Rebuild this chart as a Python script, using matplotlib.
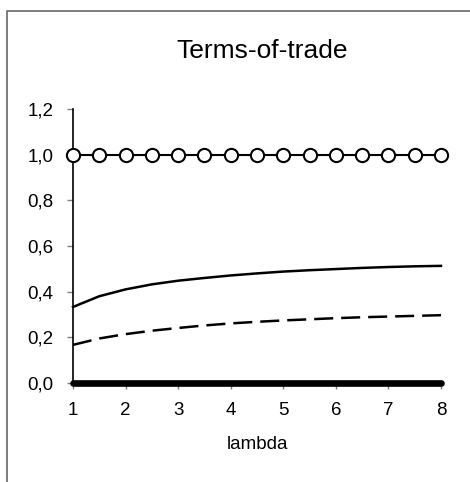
import numpy as np
import matplotlib
matplotlib.use("Agg")
import matplotlib.pyplot as plt
from matplotlib.ticker import FuncFormatter
from matplotlib.lines import Line2D

plt.rcParams['font.family'] = ['Liberation Sans', 'DejaVu Sans']

lam = [1, 1.5, 2, 2.5, 3, 3.5, 4, 4.5, 5, 5.5, 6, 6.5, 7, 7.5, 8]
flat_one = [1.0]*15
solid = [0.333, 0.380, 0.410, 0.432, 0.448, 0.460, 0.471, 0.480, 0.488, 0.494, 0.499, 0.504, 0.508, 0.511, 0.513]
dashed = [0.167, 0.195, 0.214, 0.229, 0.241, 0.252, 0.261, 0.268, 0.274, 0.279, 0.284, 0.288, 0.291, 0.294, 0.297]
zero = [0.0]*15

fig = plt.figure(figsize=(4.70, 4.82), dpi=100)
ax = fig.add_axes([73/470, 1-383/482, (441-73)/470, (383-109)/482])

ax.plot(lam, flat_one, '-', color='black', lw=1.5, marker='o', ms=9.5,
        mfc='white', mec='black', mew=1.5, clip_on=False, zorder=5)
ax.plot(lam, solid, '-', color='black', lw=1.8, clip_on=False)
ax.plot(lam, dashed, color='black', lw=1.8, dashes=(7.6, 3.2), clip_on=False)
ax.plot(lam, zero, '-', color='black', lw=4.8, solid_capstyle='round', clip_on=False, zorder=6)

ax.set_xlim(1, 8)
ax.set_ylim(0, 1.2)
ax.set_xticks(range(1, 9))
ax.set_yticks(np.arange(0, 1.21, 0.2))
ax.yaxis.set_major_formatter(FuncFormatter(lambda v, p: ('%.1f' % v).replace('.', ',')))
ax.spines['top'].set_visible(False)
ax.spines['right'].set_visible(False)
ax.spines['left'].set_linewidth(1.2)
ax.spines['bottom'].set_linewidth(1.2)
ax.tick_params(axis='both', direction='out', length=4, width=1, color='#808080',
               labelsize=13.5)
ax.tick_params(axis='x', pad=10)
ax.tick_params(axis='y', pad=10)

fig.text(262/470, 1-58/482, 'Terms-of-trade', fontsize=19, ha='center', va='baseline')
ax.set_xlabel('lambda', fontsize=13.5, labelpad=12)

# frame around the chart area
fig.add_artist(Line2D([7/470, 7/470, 1], [0, 1-11/482, 1-11/482],
                      transform=fig.transFigure, color='#666666', lw=1.2))

fig.savefig('out.png', dpi=100)
